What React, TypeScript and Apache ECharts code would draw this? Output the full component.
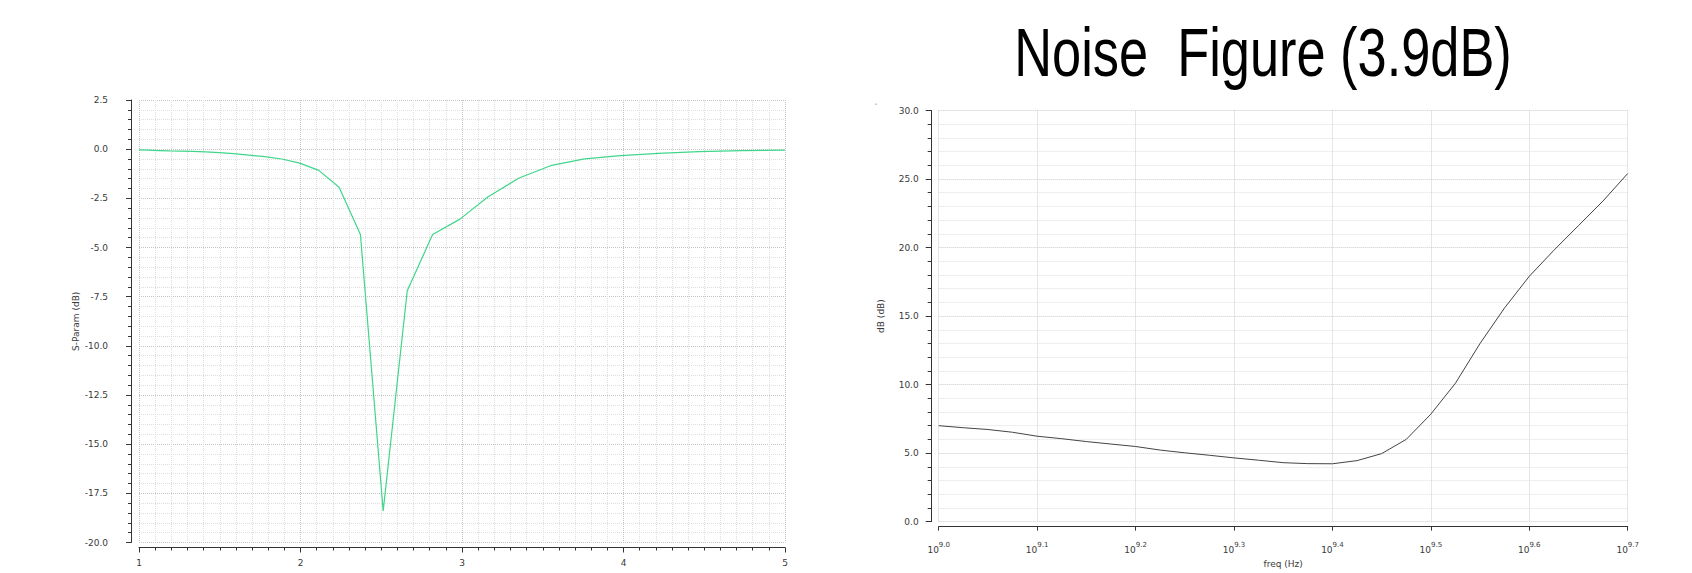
import React, { useEffect, useRef } from "react";
import * as echarts from "echarts";

// S-Parameter chart (left)
const sFreqGHz = [1.0, 1.059, 1.122, 1.189, 1.259, 1.334, 1.413, 1.496, 1.585, 1.679, 1.778, 1.884, 1.995, 2.113, 2.239, 2.371, 2.512, 2.661, 2.818, 2.985, 3.162, 3.35, 3.548, 3.758, 3.981, 4.217, 4.467, 4.732, 5.0];
const sParamDb = [-0.04, -0.05, -0.07, -0.09, -0.1, -0.11, -0.14, -0.18, -0.23, -0.3, -0.38, -0.5, -0.71, -1.08, -1.94, -4.34, -18.4, -7.2, -4.34, -3.57, -2.42, -1.48, -0.84, -0.49, -0.33, -0.21, -0.13, -0.07, -0.05];

// Noise figure chart (right), x = log10(freq in Hz)
const nfLogFreq = [9.0, 9.025, 9.05, 9.075, 9.1, 9.125, 9.15, 9.175, 9.2, 9.225, 9.25, 9.275, 9.3, 9.325, 9.35, 9.375, 9.4, 9.425, 9.45, 9.475, 9.5, 9.525, 9.55, 9.575, 9.6, 9.625, 9.65, 9.675, 9.7];
const nfDb = [7.0, 6.85, 6.72, 6.52, 6.23, 6.05, 5.84, 5.66, 5.48, 5.22, 5.02, 4.84, 4.65, 4.48, 4.3, 4.23, 4.22, 4.45, 4.96, 6.0, 7.84, 10.1, 13.0, 15.6, 17.9, 19.8, 21.6, 23.4, 25.4];

const titleText = "Noise  Figure (3.9dB)";
const leftYName = "S-Param (dB)";
const rightYName = "dB (dB)";
const rightXName = "freq (Hz)";

const FONT = "DejaVu Sans";
const LABEL_COLOR = "#3a3a3a";
const AXIS_COLOR = "#333";

export default function App() {
  const ref = useRef<HTMLDivElement>(null);
  useEffect(() => {
    if (!ref.current) return;
    const chart = echarts.init(ref.current, undefined, { renderer: "svg" });
    const labelStyle = { color: LABEL_COLOR, fontFamily: FONT, fontSize: 9 };
    const majorSplit = { show: true, lineStyle: { color: "#c4c4c4", width: 1, type: "dotted" as const } };
    const minorSplit = { show: true, lineStyle: { color: "#dedede", width: 1, type: "dotted" as const } };
    chart.setOption({
      animation: false,
      backgroundColor: "#fff",
      grid: [
        { left: 139, top: 100, width: 646, height: 442.5, containLabel: false },
        { left: 938.7, top: 110.5, width: 689, height: 417, containLabel: false },
      ],
      xAxis: [
        {
          gridIndex: 0,
          type: "value",
          min: 1,
          max: 5,
          interval: 1,
          offset: 5,
          axisLine: { show: true, onZero: false, lineStyle: { color: AXIS_COLOR, width: 1 } },
          axisTick: { show: true, length: 5, inside: false, lineStyle: { color: AXIS_COLOR } },
          minorTick: { show: true, splitNumber: 10, length: 3, lineStyle: { color: AXIS_COLOR } },
          axisLabel: { ...labelStyle, margin: 11, formatter: (v: number) => String(Math.round(v)) },
          splitLine: majorSplit,
          minorSplitLine: minorSplit,
        },
        {
          gridIndex: 1,
          type: "value",
          min: 9.0,
          max: 9.7,
          interval: 0.1,
          offset: 5,
          name: rightXName,
          nameLocation: "middle",
          nameGap: 30,
          nameTextStyle: { color: LABEL_COLOR, fontFamily: FONT, fontSize: 9 },
          axisLine: { show: true, onZero: false, lineStyle: { color: AXIS_COLOR, width: 1 } },
          axisTick: { show: true, length: 4, lineStyle: { color: AXIS_COLOR } },
          axisLabel: {
            margin: 15,
            color: LABEL_COLOR,
            fontFamily: FONT,
            fontSize: 9,
            formatter: (v: number) => "10{sup|" + v.toFixed(1) + "}",
            rich: {
              sup: { fontSize: 7, fontFamily: FONT, color: LABEL_COLOR, verticalAlign: "top", padding: [0, 0, 9, 0] },
            },
          },
          splitLine: { show: true, lineStyle: { color: "#cccccc", width: 1, type: "dotted" as const } },
        },
      ],
      yAxis: [
        {
          gridIndex: 0,
          type: "value",
          min: -20,
          max: 2.5,
          interval: 2.5,
          offset: 8,
          name: leftYName,
          nameLocation: "middle",
          nameGap: 47,
          nameRotate: 90,
          nameTextStyle: { color: LABEL_COLOR, fontFamily: FONT, fontSize: 9 },
          axisLine: { show: true, onZero: false, lineStyle: { color: AXIS_COLOR, width: 1 } },
          axisTick: { show: true, length: 5, lineStyle: { color: AXIS_COLOR } },
          minorTick: { show: true, splitNumber: 5, length: 3, lineStyle: { color: AXIS_COLOR } },
          axisLabel: { ...labelStyle, margin: 23, formatter: (v: number) => v.toFixed(1) },
          splitLine: majorSplit,
          minorSplitLine: minorSplit,
        },
        {
          gridIndex: 1,
          type: "value",
          min: 0,
          max: 30,
          interval: 5,
          offset: 7,
          name: rightYName,
          nameLocation: "middle",
          nameGap: 46,
          nameRotate: 90,
          nameTextStyle: { color: LABEL_COLOR, fontFamily: FONT, fontSize: 9 },
          axisLine: { show: true, onZero: false, lineStyle: { color: AXIS_COLOR, width: 1 } },
          axisTick: { show: true, length: 6, lineStyle: { color: AXIS_COLOR } },
          minorTick: { show: true, splitNumber: 5, length: 4, lineStyle: { color: AXIS_COLOR } },
          axisLabel: { ...labelStyle, margin: 13, formatter: (v: number) => v.toFixed(1) },
          splitLine: { show: true, lineStyle: { color: "#cccccc", width: 1, type: "dotted" as const } },
          minorSplitLine: { show: true, lineStyle: { color: "#dedede", width: 1, type: "dotted" as const } },
        },
      ],
      series: [
        {
          type: "line",
          xAxisIndex: 0,
          yAxisIndex: 0,
          data: sFreqGHz.map((f, i) => [f, sParamDb[i]]),
          showSymbol: false,
          symbol: "none",
          lineStyle: { color: "#3fd68a", width: 1.2 },
        },
        {
          type: "line",
          xAxisIndex: 1,
          yAxisIndex: 1,
          data: nfLogFreq.map((f, i) => [f, nfDb[i]]),
          showSymbol: false,
          symbol: "none",
          lineStyle: { color: "#444", width: 1 },
        },
      ],
      graphic: [
        {
          type: "text",
          x: 1263,
          y: 52,
          scaleX: 0.77,
          style: {
            text: titleText,
            fill: "#000",
            font: "68px 'Liberation Sans', Arial, sans-serif",
            textAlign: "center",
            textVerticalAlign: "middle",
          },
        },
        {
          type: "text",
          x: 876,
          y: 104,
          style: { text: "-", fill: "#666", font: "7px 'DejaVu Sans'", textAlign: "center", textVerticalAlign: "middle" },
        },
      ],
    });
    return () => chart.dispose();
  }, []);
  return (
    <div
      ref={ref}
      style={{ position: "fixed", left: 0, top: 0, width: 1692, height: 573, background: "#fff" }}
    />
  );
}
